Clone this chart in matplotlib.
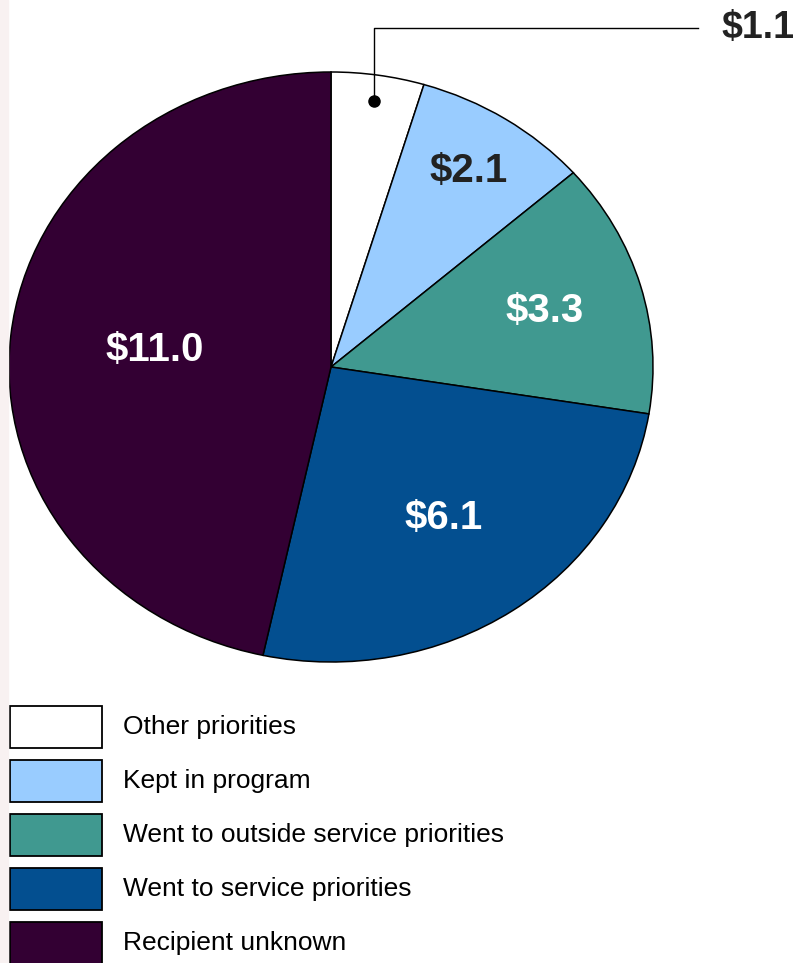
import numpy as np
import matplotlib.pyplot as plt
from matplotlib.patches import Rectangle

plt.rcParams['font.family'] = ['Liberation Sans', 'DejaVu Sans']

categories = ['Other priorities', 'Kept in program', 'Went to outside service priorities',
              'Went to service priorities', 'Recipient unknown']
values = [1.1, 2.1, 3.3, 6.1, 11.0]
labels = ['$1.1', '$2.1', '$3.3', '$6.1', '$11.0']
colors = ['#ffffff', '#99ccff', '#409990', '#034f90', '#330033']
label_colors = ['#222222', '#222222', '#ffffff', '#ffffff', '#ffffff']
label_r = [0.91, 0.79, 0.69, 0.62, 0.55]

W, H = 799, 963
fig = plt.figure(figsize=(W / 100, H / 100), dpi=100)
fig.patches.append(Rectangle((0, 0), 8 / W, 1, transform=fig.transFigure,
                             color='#f8f1f1', zorder=0))

# pie axes (slightly elliptical in the original)
ax = fig.add_axes([9 / W, 1 - 662 / H, 644 / W, 590 / H])
wedges, _ = ax.pie(values, colors=colors, startangle=90, counterclock=False,
                   wedgeprops=dict(edgecolor='black', linewidth=1.1))
ax.set_aspect('auto')
ax.set_xlim(-1, 1)
ax.set_ylim(-1, 1)
ax.axis('off')

for i, w in enumerate(wedges):
    th = np.deg2rad((w.theta1 + w.theta2) / 2)
    x, y = label_r[i] * np.cos(th), label_r[i] * np.sin(th)
    if i == 0:
        # small slice: dot with leader line out to top right
        ax.plot(x, y, 'o', color='black', ms=8, zorder=5)
        ax.plot([x, x, 1.14], [y, 1.15, 1.15], color='black', lw=1, clip_on=False)
        ax.text(1.44, 1.15, labels[i], ha='right', va='center', fontsize=27,
                fontweight='bold', color=label_colors[i], clip_on=False)
    else:
        ax.text(x, y, labels[i], ha='center', va='center', fontsize=29,
                fontweight='bold', color=label_colors[i])

# legend drawn by hand
lax = fig.add_axes([0, 0, 1, 1])
lax.set_xlim(0, W)
lax.set_ylim(H, 0)
lax.axis('off')
for i, name in enumerate(categories):
    top = 706 + i * 54
    lax.add_patch(Rectangle((10, top), 92, 42, facecolor=colors[i],
                            edgecolor='black', linewidth=1.3))
    lax.text(123, top + 21, name, ha='left', va='center', fontsize=19, color='black')

fig.savefig('out.png', dpi=100)
